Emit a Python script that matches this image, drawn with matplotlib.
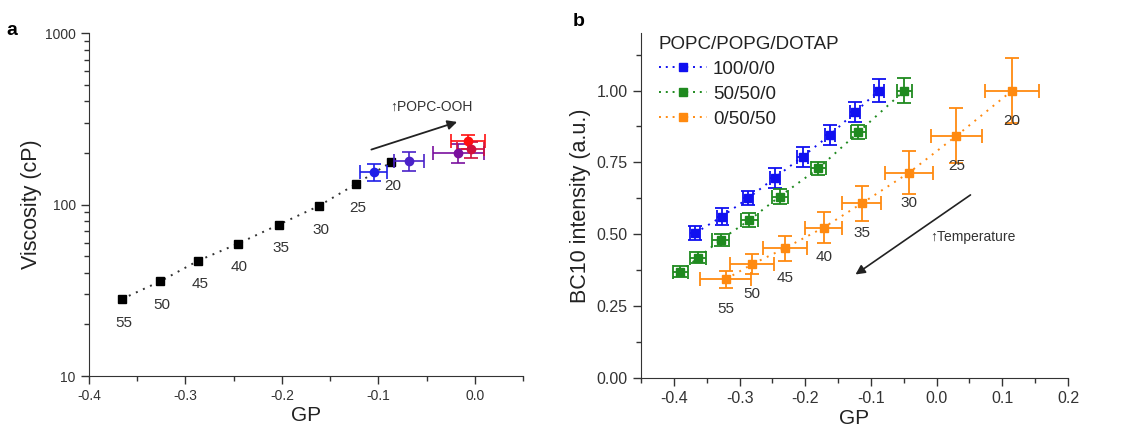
import numpy as np
import matplotlib
matplotlib.use("Agg")
import matplotlib.pyplot as plt
from matplotlib.lines import Line2D
from matplotlib.ticker import LogLocator, NullFormatter, MultipleLocator, FixedLocator

plt.rcParams["font.family"] = ["Liberation Sans", "DejaVu Sans"]

# ---- panel a: viscosity vs GP ----
temps = [55, 50, 45, 40, 35, 30, 25, 20]
gp_a = [-0.366, -0.326, -0.287, -0.246, -0.203, -0.162, -0.123, -0.087]
visc_a = [28.1, 35.7, 47.0, 59.0, 76.5, 98.0, 132.0, 176.5]

ox_gp = [-0.105, -0.068, -0.017, -0.007, -0.004]
ox_visc = [155.0, 180.0, 200.0, 234.0, 210.0]
ox_xerr = [0.0143, 0.0154, 0.026, 0.018, 0.014]
ox_yerr = [18.0, 22.0, 25.0, 22.0, 22.0]
ox_colors = ["#1f1fe8", "#4a22c8", "#7a109e", "#ff1010", "#d0103c"]

# ---- panel b: BC10 intensity vs GP ----
series_names = ["100/0/0", "50/50/0", "0/50/50"]
series_colors = ["#1010f0", "#1f8a1f", "#ff8a10"]

gp_b1 = [-0.368, -0.327, -0.287, -0.246, -0.204, -0.162, -0.124, -0.088]
bc_b1 = [0.503, 0.561, 0.625, 0.697, 0.770, 0.846, 0.925, 1.000]
xerr_b1 = [0.008] * 8
yerr_b1 = [0.025, 0.030, 0.025, 0.035, 0.035, 0.035, 0.035, 0.040]

gp_b2 = [-0.390, -0.363, -0.329, -0.285, -0.239, -0.180, -0.119, -0.049]
bc_b2 = [0.369, 0.418, 0.480, 0.549, 0.631, 0.729, 0.855, 1.000]
xerr_b2 = [0.012, 0.012, 0.013, 0.013, 0.012, 0.012, 0.012, 0.012]
yerr_b2 = [0.020, 0.020, 0.020, 0.025, 0.025, 0.022, 0.025, 0.042]

gp_b3 = [-0.321, -0.281, -0.231, -0.172, -0.114, -0.042, 0.030, 0.115]
bc_b3 = [0.343, 0.395, 0.451, 0.523, 0.607, 0.714, 0.842, 1.000]
xerr_b3 = [0.039, 0.034, 0.034, 0.028, 0.030, 0.036, 0.039, 0.041]
yerr_b3 = [0.030, 0.035, 0.043, 0.053, 0.061, 0.076, 0.096, 0.113]

TXT = "#222222"
GREY = "#333333"


def fmt_gp(v):
    s = f"{v:.1f}"
    return "0.0" if s == "-0.0" else s


def style_axes(a, ticksize):
    a.spines["top"].set_visible(False)
    a.spines["right"].set_visible(False)
    for sp in a.spines.values():
        sp.set_color(GREY)
    a.tick_params(which="major", direction="out", length=6, width=1, labelsize=ticksize, colors=GREY)
    a.tick_params(which="minor", direction="out", length=3.5, width=1, colors=GREY)


fig = plt.figure(figsize=(11.28, 4.34), dpi=100)

# ---------------- panel a ----------------
ax = fig.add_axes([0.0789, 0.1336, 0.3848, 0.790])
ax.plot(gp_a, visc_a, ls=(0, (1, 3)), color=GREY, lw=1.4, zorder=2)
ax.plot(gp_a, visc_a, ls="none", marker="s", ms=6, color="black", zorder=3)
for t, x, y in zip(temps, gp_a, visc_a):
    ax.text(x + 0.002, y * 0.80, str(t), ha="center", va="top", fontsize=11, color=GREY)

for x, y, xe, ye, c in zip(ox_gp, ox_visc, ox_xerr, ox_yerr, ox_colors):
    ax.errorbar(x, y, xerr=xe, yerr=ye, fmt="o", ms=6, color=c, ecolor=c,
                elinewidth=1.2, capsize=5, capthick=1.2, zorder=4)

ax.annotate("", xy=(-0.0156, 307), xytext=(-0.110, 207),
            arrowprops=dict(arrowstyle="-|>", color="#222222", lw=1.3, mutation_scale=14))
ax.text(-0.045, 374, "↑POPC-OOH", ha="center", va="center", fontsize=10, color=GREY)

ax.set_yscale("log")
ax.set_ylim(10, 1000)
ax.set_xlim(-0.4, 0.05)
ax.yaxis.set_major_locator(FixedLocator([10, 100, 1000]))
ax.yaxis.set_minor_locator(LogLocator(base=10, subs=np.arange(2, 10)))
ax.yaxis.set_minor_formatter(NullFormatter())
ax.set_yticklabels(["10", "100", "1000"])
xt_a = np.round(np.arange(-0.4, 0.01, 0.1), 2)
ax.set_xticks(xt_a)
ax.set_xticklabels([fmt_gp(v) for v in xt_a])
ax.xaxis.set_minor_locator(MultipleLocator(0.05))
ax.set_xlabel("GP", fontsize=15, color=TXT, labelpad=2)
ax.set_ylabel("Viscosity (cP)", fontsize=15.5, color=TXT, labelpad=2)
style_axes(ax, 10)
fig.text(0.006, 0.92, "a", fontsize=14, fontweight="bold", color="black")

# ---------------- panel b ----------------
bx = fig.add_axes([0.5683, 0.1297, 0.3785, 0.794])
data_b = [
    (gp_b1, bc_b1, xerr_b1, yerr_b1),
    (gp_b2, bc_b2, xerr_b2, yerr_b2),
    (gp_b3, bc_b3, xerr_b3, yerr_b3),
]
handles = []
for (gx, gy, xe, ye), name, c in zip(data_b, series_names, series_colors):
    bx.errorbar(gx, gy, xerr=xe, yerr=ye, fmt="s", ms=6, color=c, ecolor=c,
                elinewidth=1.3, capsize=5, capthick=1.3, ls=(0, (1, 3)), lw=1.4, zorder=3)
    handles.append(Line2D([], [], color=c, ls=(0, (1, 2.5)), lw=1.4, marker="s", ms=6, label=name))

for t, x, y in zip(temps, gp_b3, bc_b3):
    bx.text(x, y - 0.08, str(t), ha="center", va="top", fontsize=11, color=GREY)

bx.annotate("", xy=(-0.127, 0.354), xytext=(0.055, 0.642),
            arrowprops=dict(arrowstyle="-|>", color="#222222", lw=1.2, mutation_scale=14))
bx.text(0.055, 0.489, "↑Temperature", ha="center", va="center", fontsize=10, color=GREY)

leg = bx.legend(handles=handles, title="POPC/POPG/DOTAP", loc="upper left",
                bbox_to_anchor=(0.015, 1.025), frameon=False, fontsize=13.5,
                title_fontsize=13.5, handlelength=2.6, handletextpad=0.3,
                labelspacing=0.42, borderaxespad=0.2)
leg._legend_box.align = "left"
for txt in leg.get_texts():
    txt.set_color(TXT)
leg.get_title().set_color(TXT)

bx.set_xlim(-0.45, 0.2)
bx.set_ylim(0, 1.2)
xt_b = np.round(np.arange(-0.4, 0.21, 0.1), 2)
bx.set_xticks(xt_b)
bx.set_xticklabels([fmt_gp(v) for v in xt_b])
bx.xaxis.set_minor_locator(MultipleLocator(0.05))
bx.yaxis.set_major_locator(FixedLocator([0, 0.25, 0.5, 0.75, 1.0]))
bx.yaxis.set_minor_locator(FixedLocator([0.125, 0.375, 0.625, 0.875, 1.125]))
bx.set_yticklabels(["0.00", "0.25", "0.50", "0.75", "1.00"])
bx.set_xlabel("GP", fontsize=15, color=TXT, labelpad=2)
bx.set_ylabel("BC10 intensity (a.u.)", fontsize=15.5, color=TXT, labelpad=4)
style_axes(bx, 11.5)
fig.text(0.508, 0.94, "b", fontsize=14, fontweight="bold", color="black")

fig.savefig("out.png", dpi=100)
